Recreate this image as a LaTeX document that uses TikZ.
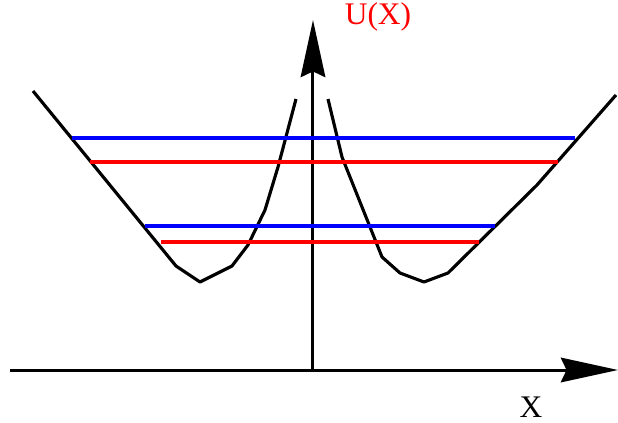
\documentclass[tikz,border=0pt]{standalone}
\usepackage{fontspec}
\setmainfont{Liberation Serif}
\usetikzlibrary{arrows.meta}

\begin{document}
\begin{tikzpicture}[x=0.35pt, y=-0.35pt,
    every node/.style={font=\fontsize{11}{13}\selectfont},
    axis/.style={line width=1.05pt, -{Stealth[length=20pt, width=8.6pt, inset=2pt]}},
    wall/.style={line width=1.1pt, line join=round},
    level/.style={line width=1.1pt}]
    \useasboundingbox (0,0) rectangle (618,423);
    % Axes
    \coordinate (xstart) at (10,370);
    \coordinate (xend) at (618,370);
    \coordinate (ustart) at (313,370);
    \coordinate (uend) at (313,20);
    \draw[axis] (xstart) -- (xend);
    \draw[axis] (ustart) -- (uend);
    \node[red] (ulabel) at (378,17) {U(X)};
    \node (xlabel) at (531,407) {X};
    % Double well
    \draw[wall] (33,91) -- (176,266) -- (200,282) -- (232,266) -- (248,245)
      -- (265,210) -- (278,167) -- (296,99);
    \draw[wall] (328,99) -- (342,157) -- (382,257) -- (400,273) -- (424,282)
      -- (448,273) -- (537,185) -- (616,95);
    % Levels
    \foreach \ya/\xa/\xb/\col in {138/72/575/blue, 162/90/558/red,
        226/145/495/blue, 242/161/479/red}
      \draw[level, \col] (\xa,\ya) -- (\xb,\ya);
\end{tikzpicture}
\end{document}
